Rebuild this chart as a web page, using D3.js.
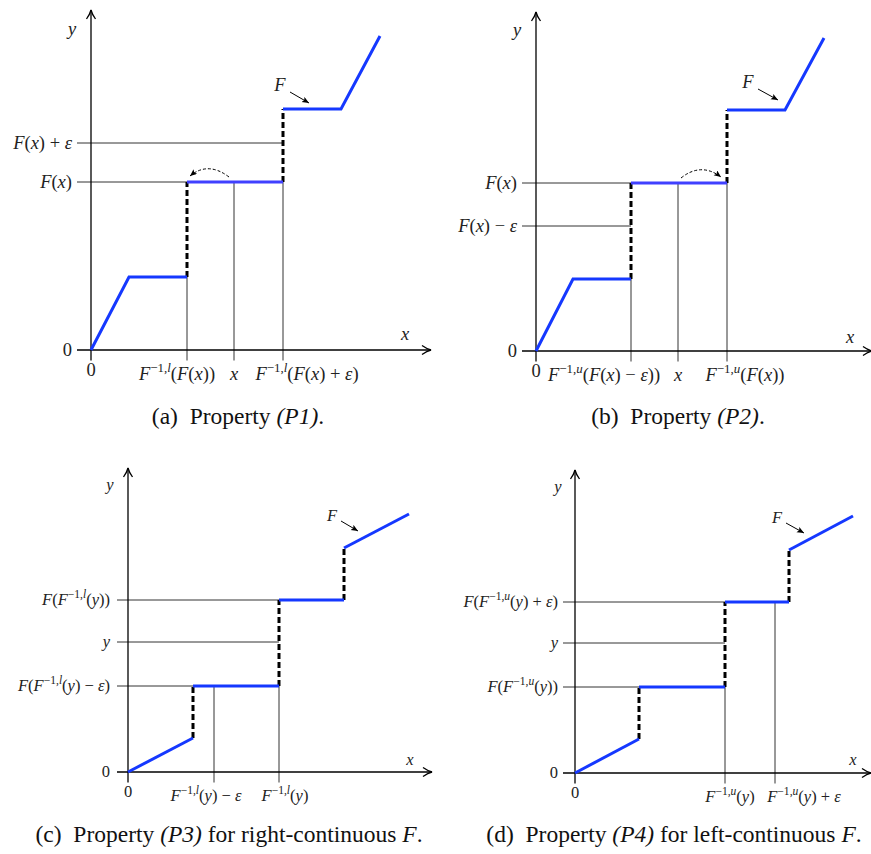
<!DOCTYPE html>
<html>
<head>
<meta charset="utf-8">
<script src="https://cdn.jsdelivr.net/npm/d3@7"></script>
<style>
body { margin: 0; background: #fff; }
svg { display: block; }
text, tspan { white-space: pre; font-family: 'Liberation Serif', 'Times New Roman', 'DejaVu Serif', serif; }
</style>
</head>
<body>
<script>
// (a) property P1 -- F as solid pieces, jumps as [x, yLow, yHigh]
const fSegA = [[[0, 0], [3.8, 7.3], [9.6, 7.3]], [[9.6, 16.8], [19.2, 16.8]], [[19.2, 24.1], [25, 24.1], [28.9, 31.4]]]
const jumpA = [[9.6, 7.3, 16.8], [19.2, 16.8, 24.1]]
const yTickA = [0, 16.8, 20.7]
const yLabA = ['0', 'F(x)', 'F(x)+ε']
const yGuideToA = [0, 9.6, 19.2]
const xTickA = [0, 9.6, 14.3, 19.2]
const xLabA = ['0', 'F^{-1,l}(F(x))', 'x', 'F^{-1,l}(F(x)+ε)']
const xGuideToA = [0, 7.3, 16.8, 16.8]

// (b) property P2
const fSegB = [[[0, 0], [3.7, 7.2], [9.5, 7.2]], [[9.5, 16.8], [19.1, 16.8]], [[19.1, 24.1], [24.9, 24.1], [28.8, 31.3]]]
const jumpB = [[9.5, 7.2, 16.8], [19.1, 16.8, 24.1]]
const yTickB = [0, 12.5, 16.8]
const yLabB = ['0', 'F(x)-ε', 'F(x)']
const yGuideToB = [0, 9.5, 9.5]
const xTickB = [0, 9.5, 14.2, 19.1]
const xLabB = ['0', 'F^{-1,u}(F(x)-ε))', 'x', 'F^{-1,u}(F(x))']
const xGuideToB = [0, 7.2, 16.8, 16.8]

// (c) property P3
const fSegC = [[[0, 0], [6.5, 3.4]], [[6.5, 8.6], [15.1, 8.6]], [[15.1, 17.2], [21.6, 17.2]], [[21.6, 22.4], [28.1, 25.8]]]
const jumpC = [[6.5, 3.4, 8.6], [15.1, 8.6, 17.2], [21.6, 17.2, 22.4]]
const yTickC = [0, 8.6, 13.0, 17.2]
const yLabC = ['0', 'F(F^{-1,l}(y)-ε)', 'y', 'F(F^{-1,l}(y))']
const yGuideToC = [0, 6.5, 15.1, 15.1]
const xTickC = [0, 8.6, 15.1]
const xLabC = ['0', 'F^{-1,l}(y)-ε', 'F^{-1,l}(y)']
const xGuideToC = [0, 8.6, 8.6]

// (d) property P4
const fSegD = [[[0, 0], [6.4, 3.4]], [[6.4, 8.6], [15, 8.6]], [[15, 17.1], [21.4, 17.1]], [[21.4, 22.3], [27.8, 25.7]]]
const jumpD = [[6.4, 3.4, 8.6], [15, 8.6, 17.1], [21.4, 17.1, 22.3]]
const yTickD = [0, 8.6, 13.0, 17.1]
const yLabD = ['0', 'F(F^{-1,u}(y))', 'y', 'F(F^{-1,u}(y)+ε)']
const yGuideToD = [0, 6.4, 15, 15]
const xTickD = [0, 15, 20]
const xLabD = ['0', 'F^{-1,u}(y)', 'F^{-1,u}(y)+ε']
const xGuideToD = [0, 8.6, 17.1]

const captions = [
    [['(a)  Property ', false], ['(P1)', true], ['.', false]],
    [['(b)  Property ', false], ['(P2)', true], ['.', false]],
    [['(c)  Property ', false], ['(P3)', true], [' for right-continuous ', false], ['F', true], ['.', false]],
    [['(d)  Property ', false], ['(P4)', true], [' for left-continuous ', false], ['F', true], ['.', false]]
]

const panels = [
    {ox: 91, oy: 350, xs: -1.4, xe: 34, ye: 34, font: 18.5, fSeg: fSegA, jumps: jumpA,
        yTick: yTickA, yLab: yLabA, yTo: yGuideToA, xTick: xTickA, xLab: xLabA, xTo: xGuideToA,
        xShift: [0, -10, 0, 24], labDy: 30, zeroDy: 26, xLabPos: [31.4, 1.0], yLabPos: [-1.9, 31.5],
        fLab: [18.9, 25.9], ptr: [[19.9, 25.8], [21.8, 24.7]],
        curve: [[13.8, 17.3], [11.7, 18.9], [9.9, 17.4]], hi: 1,
        cap: [238, 424]},
    {ox: 536, oy: 351, xs: -1.4, xe: 33.6, ye: 33.9, font: 18.5, fSeg: fSegB, jumps: jumpB,
        yTick: yTickB, yLab: yLabB, yTo: yGuideToB, xTick: xTickB, xLab: xLabB, xTo: xGuideToB,
        xShift: [0, -27, 0, 18], labDy: 30, zeroDy: 26, xLabPos: [31.4, 0.8], yLabPos: [-1.9, 31.5],
        fLab: [21.2, 26.3], ptr: [[22.2, 26.2], [24.2, 25.1]],
        curve: [[14.5, 17.3], [16.5, 18.9], [18.5, 17.4]], hi: 1,
        cap: [678, 424]},
    {ox: 128, oy: 772, xs: -1.1, xe: 30.4, ye: 30.4, font: 16.5, fSeg: fSegC, jumps: jumpC,
        yTick: yTickC, yLab: yLabC, yTo: yGuideToC, xTick: xTickC, xLab: xLabC, xTo: xGuideToC,
        xShift: [0, -8, 6], labDy: 29, zeroDy: 25, xLabPos: [28.2, 0.7], yLabPos: [-1.8, 28.2],
        fLab: [20.4, 25.1], ptr: [[21.3, 25.1], [23.0, 24.1]],
        curve: null, hi: -1,
        cap: [229, 842]},
    {ox: 575, oy: 773, xs: -1.2, xe: 29.6, ye: 30.3, font: 16.5, fSeg: fSegD, jumps: jumpD,
        yTick: yTickD, yLab: yLabD, yTo: yGuideToD, xTick: xTickD, xLab: xLabD, xTo: xGuideToD,
        xShift: [0, 5, 29], labDy: 29, zeroDy: 25, xLabPos: [27.8, 0.8], yLabPos: [-1.7, 28.1],
        fLab: [20.2, 25.0], ptr: [[21.1, 25.0], [22.9, 24.0]],
        curve: null, hi: -1,
        cap: [674, 842]}
]

const serif = "'Liberation Serif', 'Times New Roman', 'DejaVu Serif', serif"

const svg = d3.select('body').append('svg')
    .attr('width', 871)
    .attr('height', 854)
    .attr('font-family', serif)

svg.append('defs').append('marker')
    .attr('id', 'head')
    .attr('markerUnits', 'userSpaceOnUse')
    .attr('markerWidth', 8).attr('markerHeight', 8)
    .attr('refX', 7).attr('refY', 3)
    .attr('orient', 'auto')
    .append('path').attr('d', 'M0,0 L7,3 L0,6 L1.5,3 Z').attr('fill', '#000')

// tiny tex-like label: letters italic, ^{...} superscript
function addMath(text, str, size){
    text.attr('font-family', serif)
    const tokens = []
    let sup = false
    for (let i = 0; i < str.length; i++){
        const c = str[i]
        if (c === '^' && str[i + 1] === '{'){ sup = true; i++; continue }
        if (c === '}' && sup){ sup = false; continue }
        const it = /[A-Za-zε]/.test(c)
        let t = c
        if (c === '-') t = sup ? '−' : ' − '
        if (c === '+') t = sup ? '+' : ' + '
        const last = tokens[tokens.length - 1]
        if (last && last.it === it && last.sup === sup) last.t += t
        else tokens.push({t, it, sup})
    }
    let shifted = 0
    tokens.forEach(k => {
        const ts = text.append('tspan').text(k.t)
            .style('font-style', k.it ? 'italic' : 'normal')
            .style('font-size', (k.sup ? size * 0.7 : size) + 'px')
        const want = k.sup ? -size * 0.42 : 0
        if (want !== shifted){ ts.attr('dy', want - shifted); shifted = want }
    })
}

function drawPanel(p, idx){
    const x = d3.scaleLinear().domain([0, 10]).range([p.ox, p.ox + 100])
    const y = d3.scaleLinear().domain([0, 10]).range([p.oy, p.oy - 100])
    const g = svg.append('g').attr('class', 'panel')
    const line = d3.line().x(d => x(d[0])).y(d => y(d[1]))

    // horizontal guides
    g.selectAll('.hguide')
        .data(p.yTick.map((v, i) => ({v, to: p.yTo[i]})).filter(d => d.v !== 0))
        .join('line')
        .attr('x1', x(p.xs)).attr('x2', d => x(d.to))
        .attr('y1', d => y(d.v)).attr('y2', d => y(d.v))
        .attr('stroke', '#333').attr('stroke-width', 1)

    // vertical guides, running down past the axis as ticks
    g.selectAll('.vguide')
        .data(p.xTick.map((v, i) => ({v, to: p.xTo[i]})).filter(d => d.v !== 0))
        .join('line')
        .attr('x1', d => x(d.v)).attr('x2', d => x(d.v))
        .attr('y1', y(-1.05)).attr('y2', d => y(d.to))
        .attr('stroke', '#333').attr('stroke-width', 1)

    // axes
    g.append('line')
        .attr('x1', x(p.xs)).attr('x2', x(p.xe))
        .attr('y1', y(0)).attr('y2', y(0))
        .attr('stroke', '#000').attr('stroke-width', 1.3)
    g.append('line')
        .attr('x1', x(0)).attr('x2', x(0))
        .attr('y1', y(-1.05)).attr('y2', y(p.ye))
        .attr('stroke', '#000').attr('stroke-width', 1.3)
    const tx = x(p.xe), ty = y(p.ye)
    g.append('path')
        .attr('d', `M${tx - 9},${y(0) - 4.5} Q${tx - 4},${y(0) - 1} ${tx},${y(0)} Q${tx - 4},${y(0) + 1} ${tx - 9},${y(0) + 4.5}`)
        .attr('fill', 'none').attr('stroke', '#000').attr('stroke-width', 1.3)
    g.append('path')
        .attr('d', `M${x(0) - 4.5},${ty + 9} Q${x(0) - 1},${ty + 4} ${x(0)},${ty} Q${x(0) + 1},${ty + 4} ${x(0) + 4.5},${ty + 9}`)
        .attr('fill', 'none').attr('stroke', '#000').attr('stroke-width', 1.3)

    // jumps
    g.selectAll('.jump')
        .data(p.jumps)
        .join('line')
        .attr('x1', d => x(d[0])).attr('x2', d => x(d[0]))
        .attr('y1', d => y(d[1])).attr('y2', d => y(d[2]))
        .attr('stroke', '#000').attr('stroke-width', 3)
        .attr('stroke-dasharray', '6,3')

    // F
    g.selectAll('.fseg')
        .data(p.fSeg)
        .join('path')
        .attr('d', line)
        .attr('fill', 'none')
        .attr('stroke', (d, i) => i === p.hi ? '#4040ff' : '#1538ff')
        .attr('stroke-width', 3)
        .attr('stroke-linejoin', 'miter')

    const fs = p.font
    // y tick labels
    p.yTick.forEach((v, i) => {
        const t = g.append('text')
            .attr('x', x(p.yLabPos[0])).attr('y', y(v) + fs * 0.32)
            .attr('text-anchor', 'end').attr('fill', '#222')
        addMath(t, p.yLab[i], fs)
    })
    // x tick labels
    p.xTick.forEach((v, i) => {
        const t = g.append('text')
            .attr('x', x(v) + p.xShift[i]).attr('y', y(0) + (i === 0 ? p.zeroDy : p.labDy))
            .attr('text-anchor', 'middle').attr('fill', '#222')
        addMath(t, p.xLab[i], fs)
    })
    // axis names
    addMath(g.append('text').attr('x', x(p.xLabPos[0])).attr('y', y(p.xLabPos[1]))
        .attr('text-anchor', 'middle').attr('fill', '#222'), 'x', fs)
    addMath(g.append('text').attr('x', x(p.yLabPos[0])).attr('y', y(p.yLabPos[1]))
        .attr('text-anchor', 'middle').attr('fill', '#222'), 'y', fs)

    // F pointer
    addMath(g.append('text').attr('x', x(p.fLab[0])).attr('y', y(p.fLab[1]))
        .attr('text-anchor', 'middle').attr('fill', '#222'), 'F', fs)
    g.append('line')
        .attr('x1', x(p.ptr[0][0])).attr('y1', y(p.ptr[0][1]))
        .attr('x2', x(p.ptr[1][0])).attr('y2', y(p.ptr[1][1]))
        .attr('stroke', '#000').attr('stroke-width', 1)
        .attr('marker-end', 'url(#head)')

    if (p.curve){
        const c = p.curve
        g.append('path')
            .attr('d', `M${x(c[0][0])},${y(c[0][1])} Q${x(c[1][0])},${y(c[1][1])} ${x(c[2][0])},${y(c[2][1])}`)
            .attr('fill', 'none').attr('stroke', '#000').attr('stroke-width', 1)
            .attr('stroke-dasharray', '3,2')
            .attr('marker-end', 'url(#head)')
    }

    // caption
    const cap = svg.append('text')
        .attr('x', p.cap[0]).attr('y', p.cap[1])
        .attr('text-anchor', 'middle')
        .attr('font-family', serif)
        .style('font-size', '23.5px')
        .attr('fill', '#111')
    captions[idx].forEach(part => {
        cap.append('tspan').text(part[0]).style('font-style', part[1] ? 'italic' : 'normal')
    })
}

panels.forEach((p, i) => drawPanel(p, i))
</script>
</body>
</html>
